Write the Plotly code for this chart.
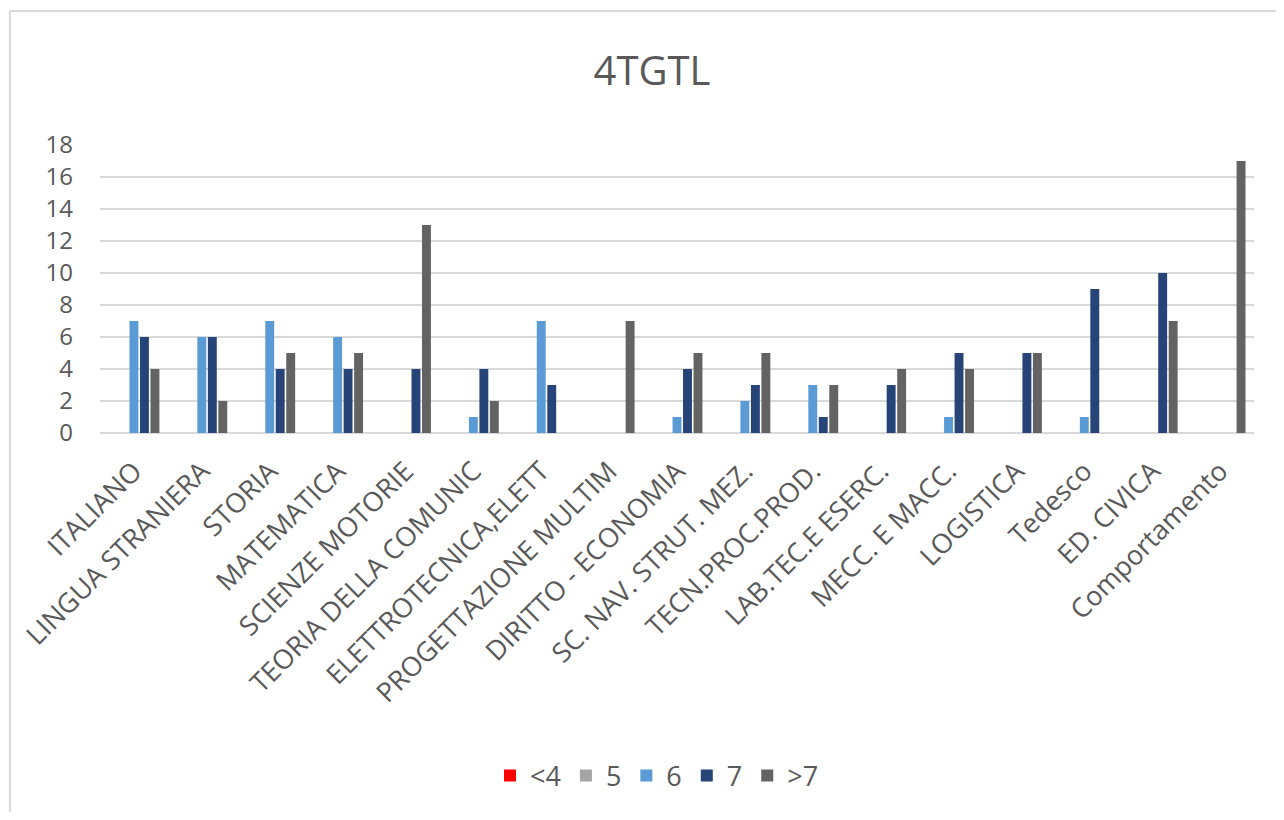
import plotly.graph_objects as go

categories = ["ITALIANO", "LINGUA STRANIERA", "STORIA", "MATEMATICA", "SCIENZE MOTORIE",
              "TEORIA DELLA COMUNIC", "ELETTROTECNICA,ELETT", "PROGETTAZIONE MULTIM",
              "DIRITTO - ECONOMIA", "SC. NAV. STRUT. MEZ.", "TECN.PROC.PROD.",
              "LAB.TEC.E ESERC.", "MECC. E MACC.", "LOGISTICA", "Tedesco", "ED. CIVICA",
              "Comportamento"]

series_names = ["<4", "5", "6", "7", ">7"]
vals_lt4 = [0, 0, 0, 0, 0, 0, 0, 0, 0, 0, 0, 0, 0, 0, 0, 0, 0]
vals_5 = [0, 0, 0, 0, 0, 0, 0, 0, 0, 0, 0, 0, 0, 0, 0, 0, 0]
vals_6 = [7, 6, 7, 6, 0, 1, 7, 0, 1, 2, 3, 0, 1, 0, 1, 0, 0]
vals_7 = [6, 6, 4, 4, 4, 4, 3, 0, 4, 3, 1, 3, 5, 5, 9, 10, 0]
vals_gt7 = [4, 2, 5, 5, 13, 2, 0, 7, 5, 5, 3, 4, 4, 5, 0, 7, 17]
colors = ["#FF0000", "#A5A5A5", "#5B9BD5", "#264478", "#636363"]

y_ticks = [0, 2, 4, 6, 8, 10, 12, 14, 16, 18]

FONT = "Open Sans"
TXT = "#595959"

fig = go.Figure()
for name, vals, col in zip(series_names, [vals_lt4, vals_5, vals_6, vals_7, vals_gt7], colors):
    fig.add_trace(go.Bar(x=categories, y=vals, name=name,
                         marker=dict(color=col, line=dict(width=0))))

# page is offset by the 8px body margin; coordinates below are figure pixels
OFF = 8
L, R, T, B = 100 - OFF, 1254 - OFF, 145 - OFF, 433 - OFF
W, H = 1276, 804

fig.update_layout(
    width=W, height=H,
    margin=dict(l=L, r=W - R, t=T, b=H - B, autoexpand=False),
    barmode="group", bargap=0.227, bargroupgap=0.15,
    plot_bgcolor="white", paper_bgcolor="white",
    font=dict(family=FONT, color=TXT),
    title=dict(text="4TGTL", x=(652 - OFF) / W, xref="container",
               y=1 - (71 - OFF) / H, yref="container", xanchor="center", yanchor="middle",
               font=dict(size=40, color=TXT, family=FONT)),
    xaxis=dict(tickangle=-45, tickfont=dict(size=27, color=TXT), showgrid=False,
               showline=False, ticks="", automargin=False, ticklabelstandoff=16),
    yaxis=dict(range=[0, 18], tickvals=y_ticks, tickfont=dict(size=24, color=TXT),
               showgrid=True, gridcolor="#D9D9D9", gridwidth=2, zeroline=True,
               zerolinecolor="#D9D9D9", zerolinewidth=2, showline=False, ticks="",
               ticklabelstandoff=26, automargin=False),
    legend=dict(orientation="h", x=(657 - OFF - L) / (R - L), xanchor="center",
                y=(B - (776 - OFF)) / (B - T), yanchor="middle",
                font=dict(size=27, color=TXT), itemwidth=30),
    showlegend=True,
)

# outer chart border (top and left edges visible)
bx = (10 - OFF - L) / (R - L)
by = (B - (11 - OFF)) / (B - T)
fig.add_shape(type="line", xref="paper", yref="paper", x0=bx, x1=(W + 5 - L) / (R - L),
              y0=by, y1=by, line=dict(color="#D9D9D9", width=2))
fig.add_shape(type="line", xref="paper", yref="paper", x0=bx, x1=bx,
              y0=by, y1=(B - H - 5) / (B - T), line=dict(color="#D9D9D9", width=2))

fig.write_html("out.html")
